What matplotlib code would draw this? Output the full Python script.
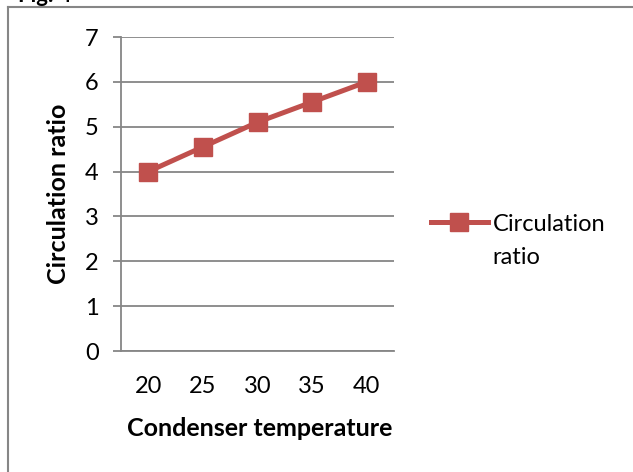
import matplotlib.pyplot as plt
from matplotlib.lines import Line2D

# data
temps = ["20", "25", "30", "35", "40"]
circ_ratio = [4.0, 4.55, 5.1, 5.55, 6.0]
series_name = ["Circulation", "ratio"]

plt.rcParams['font.family'] = ['Lato', 'DejaVu Sans']

W, H = 633, 472
fig = plt.figure(figsize=(W / 100, H / 100), dpi=100)

# plot area in pixels: x 121..394, y 37..351
ax = fig.add_axes([121 / W, 1 - 351 / H, (394 - 121) / W, (351 - 37) / H])

red = "#C0504D"
grey = "#868686"

x = range(len(temps))
ax.plot(x, circ_ratio, color=red, lw=3.6, marker="s", markersize=13,
        markeredgecolor=red, label=series_name[0])

ax.set_xlim(-0.5, len(temps) - 0.5)
ax.set_ylim(0, 7)
ax.set_yticks(range(0, 8))
ax.set_xticks(list(x))
ax.set_xticklabels(temps)

ax.grid(axis="y", color=grey, lw=1.3)
ax.set_axisbelow(True)
for s in ["top", "right"]:
    ax.spines[s].set_visible(False)
ax.spines["left"].set_color(grey)
ax.spines["left"].set_linewidth(1.3)
ax.spines["bottom"].set_color(grey)
ax.spines["bottom"].set_linewidth(1.3)

ax.tick_params(axis="y", length=6, width=1.3, color=grey, pad=10, labelsize=17)
ax.tick_params(axis="x", length=0, pad=18, labelsize=17)

fig.text(260 / W, 1 - 428 / H, "Condenser temperature", ha="center", va="center",
         fontsize=18, fontweight="bold")
fig.text(58 / W, 1 - 194 / H, "Circulation ratio", ha="center", va="center",
         rotation=90, fontsize=18, fontweight="bold")

leg = ax.legend(loc="center left", bbox_to_anchor=(431 / W, 1 - 224 / H),
                bbox_transform=fig.transFigure, frameon=False, fontsize=17,
                handlelength=2.4, handletextpad=0.2, borderpad=0, borderaxespad=0)

# second line of the wrapped legend label, placed under the first
fig.canvas.draw()
bb = leg.get_texts()[0].get_window_extent()
fig.text(bb.x0 / W, (bb.y0 + bb.y1) / 2 / H - 34 / H, series_name[1],
         ha="left", va="center", fontsize=17)

# cut-off figure caption and outer frame
fig.text(18 / W, 1 - 2 / H, "Fig. 4", ha="left", va="baseline",
         fontsize=16, fontweight="bold")
fig.add_artist(Line2D([8 / W, 1], [1 - 7 / H, 1 - 7 / H], color=grey, lw=1.5,
                      transform=fig.transFigure))
fig.add_artist(Line2D([8 / W, 8 / W], [1 - 7 / H, 0], color=grey, lw=1.5,
                      transform=fig.transFigure))

fig.savefig("out.png", dpi=100)
